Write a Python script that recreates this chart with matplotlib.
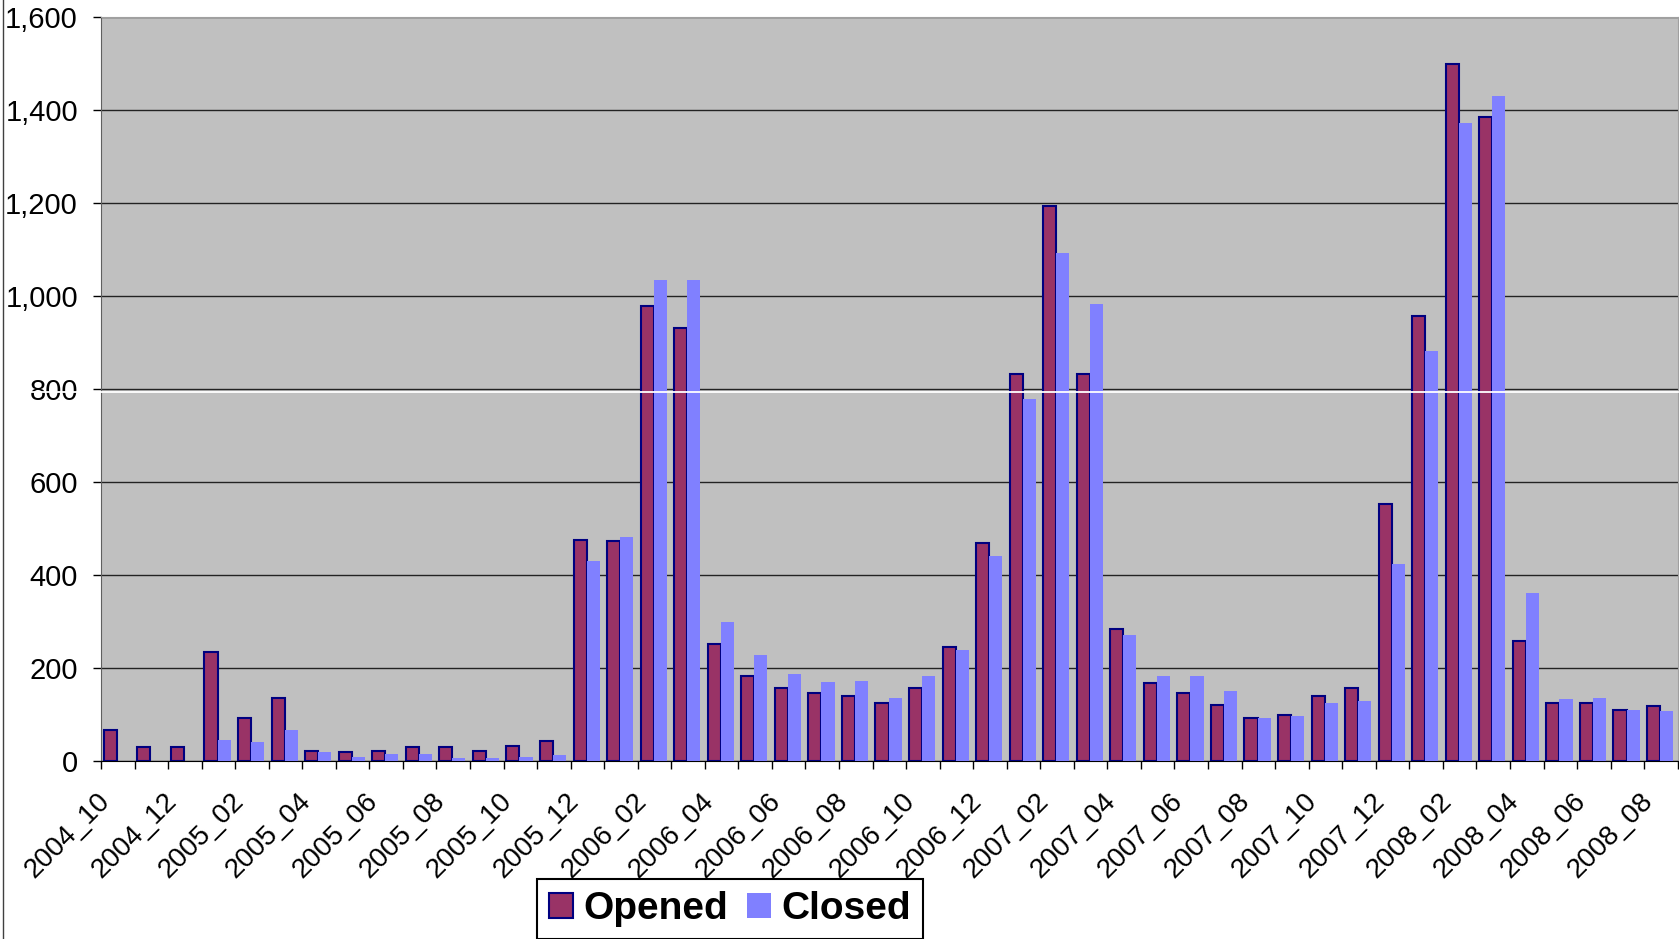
import matplotlib
matplotlib.use('Agg')
import matplotlib.pyplot as plt
import matplotlib.transforms as mtransforms
from matplotlib.ticker import FuncFormatter
import numpy as np

# categories (one per month)
months = ['2004_10', '2004_11', '2004_12',
          '2005_01', '2005_02', '2005_03', '2005_04', '2005_05', '2005_06',
          '2005_07', '2005_08', '2005_09', '2005_10', '2005_11', '2005_12',
          '2006_01', '2006_02', '2006_03', '2006_04', '2006_05', '2006_06',
          '2006_07', '2006_08', '2006_09', '2006_10', '2006_11', '2006_12',
          '2007_01', '2007_02', '2007_03', '2007_04', '2007_05', '2007_06',
          '2007_07', '2007_08', '2007_09', '2007_10', '2007_11', '2007_12',
          '2008_01', '2008_02', '2008_03', '2008_04', '2008_05', '2008_06',
          '2008_07', '2008_08']

opened = [66, 30, 30, 234, 92, 135, 22, 19, 22, 30, 30, 22, 33, 44, 476,
          473, 978, 932, 252, 183, 157, 147, 139, 124, 157, 245, 469,
          833, 1194, 833, 284, 168, 147, 121, 92, 98, 139, 157, 553,
          958, 1498, 1386, 259, 124, 124, 110, 118]

closed = [0, 0, 0, 45, 41, 67, 20, 9, 16, 16, 6, 6, 9, 13, 431,
          481, 1034, 1034, 300, 227, 187, 169, 173, 136, 183, 238, 441,
          779, 1092, 983, 271, 183, 183, 151, 92, 96, 125, 128, 424,
          882, 1373, 1431, 362, 133, 136, 110, 108]

plt.rcParams['font.family'] = ['Liberation Sans', 'DejaVu Sans']

fig = plt.figure(figsize=(16.79, 9.39), dpi=100)
ax = fig.add_axes([101 / 1679, 1 - 761 / 939, (1677.7 - 101) / 1679, (761 - 17) / 939])

x = np.arange(len(months))
w = 0.39
ax.bar(x - 0.22, opened, w, color='#993366', edgecolor='#000080', linewidth=1.5,
       label='Opened', zorder=3)
ax.bar(x + 0.17, closed, w, color='#8080FF', edgecolor='none',
       label='Closed', zorder=3)

ax.set_facecolor('#C0C0C0')
ax.set_xlim(-0.5, len(months) - 0.5)
ax.set_ylim(0, 1600)
ax.set_yticks(range(0, 1601, 200))
ax.yaxis.set_major_formatter(FuncFormatter(lambda v, p: f'{int(v):,}'))
ax.yaxis.grid(True, color='#222222', lw=1.0)
ax.set_axisbelow(True)

# labels every second month, tick marks between groups
ax.set_xticks(x[::2])
ax.set_xticklabels(months[::2], rotation=45, ha='right', va='center',
                   rotation_mode='anchor', fontsize=20)
ax.set_xticks(np.arange(-0.5, len(months)), minor=True)
ax.tick_params(axis='x', which='major', length=0, pad=26)
ax.tick_params(axis='x', which='minor', length=5.5, width=1, direction='out')
ax.tick_params(axis='y', length=5.8, width=1, pad=10.8, labelsize=21)

offset = mtransforms.ScaledTranslation(-12 / 100, 0, fig.dpi_scale_trans)
for lab in ax.get_xticklabels():
    lab.set_transform(lab.get_transform() + offset)

ax.spines['left'].set_color('#606060')
ax.spines['bottom'].set_color('#000000')
ax.spines['top'].set_color('#A0A0A0')
ax.spines['right'].set_color('#A0A0A0')

# the odd white line just under the 800 gridline
ax.axhline(794, xmin=-0.06, xmax=1, color='white', lw=1.3, clip_on=False, zorder=5)

leg = ax.legend(loc='center', bbox_to_anchor=(0.4347, 0.032),
                bbox_transform=fig.transFigure, ncol=2,
                prop={'weight': 'bold', 'size': 28}, frameon=True, fancybox=False,
                edgecolor='black', framealpha=1, handlelength=0.62,
                handleheight=0.6, handletextpad=0.25, columnspacing=0.5,
                borderpad=0.32, borderaxespad=0)
leg.get_frame().set_linewidth(1.5)

fig.add_artist(plt.Line2D([0.002, 0.002], [0, 1], color='#404040', lw=1))

fig.savefig('out.png', dpi=100)
